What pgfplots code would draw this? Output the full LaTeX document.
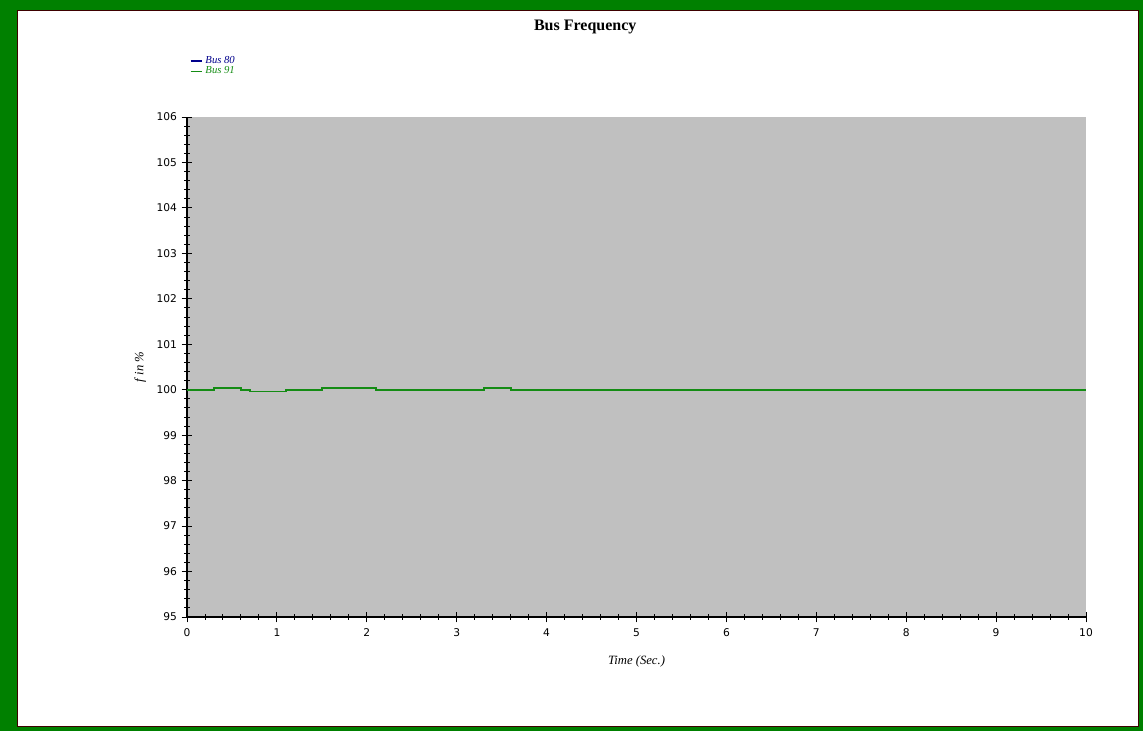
\documentclass[border=0pt]{standalone}
\usepackage{pgfplots}
\pgfplotsset{compat=1.18}
\usepackage{fontspec}
\setmainfont{Liberation Serif}
\newfontfamily\tickfont{DejaVu Sans}
\definecolor{bggray}{RGB}{192,192,192}
\definecolor{frgreen}{RGB}{0,128,0}
\definecolor{busblue}{RGB}{0,0,140}
\definecolor{busgreen}{RGB}{20,140,20}
\pgfplotstableread{
t f
0 100
0.3 100
0.3 100.04
0.6 100.04
0.6 100
0.7 100
0.7 99.96
1.1 99.96
1.1 100
1.5 100
1.5 100.04
2.1 100.04
2.1 100
3.3 100
3.3 100.04
3.6 100.04
3.6 100
10 100
}\busdata
\begin{document}
\begin{tikzpicture}
\fill[frgreen] (0pt,0pt) rectangle (857.25pt,548.25pt);
\fill[white,draw=black!60!red!60!black,line width=0.6pt] (12.75pt,3.75pt) rectangle (853.5pt,540.75pt);
\begin{axis}[
  at={(140.25pt,85.5pt)}, anchor=south west,
  scale only axis, width=674.25pt, height=375pt,
  xmin=0, xmax=10, ymin=95, ymax=106,
  axis background/.style={fill=bggray},
  axis x line*=bottom, axis y line*=left,
  axis line style={black, line width=0.8pt},
  xtick={0,...,10}, ytick={95,...,106},
  minor x tick num=4, minor y tick num=4,
  tick align=center,
  major tick length=8pt, minor tick length=4pt,
  tick style={black, line width=0.7pt},
  ticklabel style={font=\tickfont\fontsize{8}{9}\selectfont},
  /pgf/number format/assume math mode=true,
  x tick label style={yshift=-1pt},
  xlabel={\itshape Time (Sec.)},
  ylabel={\itshape f in \%},
  xlabel style={at={(axis description cs:0.5,-0.088)}, anchor=center, font=\fontsize{9.5}{10}\selectfont},
  ylabel style={at={(axis description cs:-0.052,0.5)}, anchor=center, font=\fontsize{9.5}{10}\selectfont},
  title={\textbf{Bus Frequency}},
  title style={at={(axis description cs:0.443,1.165)}, anchor=center, font=\fontsize{12}{13}\selectfont},
  legend style={at={(axis description cs:0.003,1.127)}, anchor=north west, draw=white, fill=white,
    font=\itshape\fontsize{8}{8}\selectfont, row sep=-3pt, inner sep=0pt},
  legend cell align=left,
  legend image code/.code={\draw[#1] plot coordinates {(0cm,0cm) (0.3cm,0cm)};},
]
\addplot[draw=busblue, line width=0.9pt, legend image post style={line width=1.1pt, draw=busblue}] table[x=t,y=f] {\busdata};
\addlegendentry{\textcolor{busblue}{Bus 80}}
\addplot[draw=busgreen, line width=1.3pt, legend image post style={line width=1.1pt, draw=busgreen}] table[x=t,y=f] {\busdata};
\addlegendentry{\textcolor{busgreen}{Bus 91}}
\end{axis}
\end{tikzpicture}
\end{document}
